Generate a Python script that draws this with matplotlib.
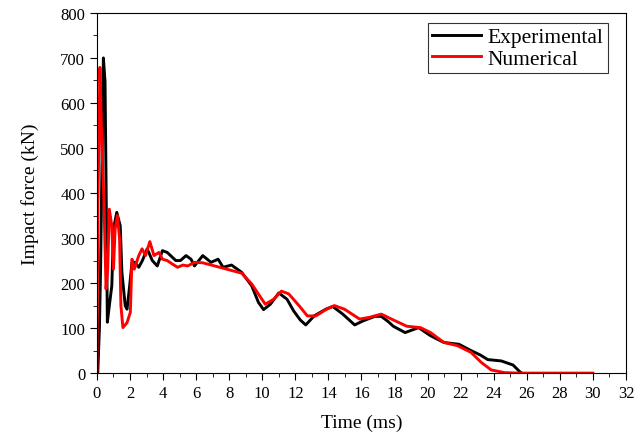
import matplotlib
matplotlib.use('Agg')
import matplotlib.pyplot as plt
from matplotlib.ticker import MultipleLocator

plt.rcParams['font.family'] = 'Liberation Serif'

# Experimental curve (time in ms, force in kN)
exp_t = [0.0, 0.05, 0.15, 0.22, 0.30, 0.39, 0.49, 0.55, 0.63, 0.75, 0.90, 1.00, 1.20, 1.41,
         1.51, 1.71, 1.82, 1.98, 2.12, 2.30, 2.53, 2.75, 3.04, 3.35, 3.65, 3.96, 4.25, 4.57,
         4.77, 5.05, 5.39, 5.69, 5.90, 6.40, 6.90, 7.33, 7.63, 8.14, 8.75, 9.36, 9.77, 10.08,
         10.49, 11.0, 11.5, 11.9, 12.3, 12.63, 13.14, 13.85, 14.26, 14.87, 15.59, 16.1, 16.81,
         17.2, 17.6, 17.93, 18.64, 19.46, 20.18, 20.99, 21.9, 22.63, 23.2, 23.64, 24.46, 25.17,
         25.58, 25.7]
exp_f = [0, 0, 100, 230, 450, 700, 647, 431, 113, 150, 194, 320, 357, 327,
         224, 150, 142, 194, 246, 246, 235, 250, 276, 250, 238, 272, 268, 257,
         250, 250, 261, 253, 238, 261, 246, 253, 235, 240, 224, 194, 157, 141,
         153, 178, 164, 138, 118, 107, 127, 142, 148, 131, 107, 116, 126,
         126, 115, 104, 90, 101, 83, 68, 64, 50, 40, 30, 27, 18,
         3, 0]

# Numerical curve
num_t = [0.0, 0.05, 0.18, 0.29, 0.43, 0.55, 0.65, 0.75, 0.90, 1.00, 1.10, 1.24, 1.37, 1.45,
         1.57, 1.82, 2.02, 2.12, 2.26, 2.53, 2.73, 2.94, 3.20, 3.45, 3.75, 3.96, 4.25, 4.57,
         4.88, 5.20, 5.49, 5.90, 6.40, 7.12, 7.73, 8.75, 9.36, 10.18, 10.69, 11.16, 11.6,
         12.22, 12.73, 13.24, 13.85, 14.36, 14.97, 15.89, 16.5, 17.2, 17.93, 18.75, 19.57,
         20.18, 20.99, 21.8, 22.63, 23.24, 23.85, 24.66, 25.5, 30.0]
num_f = [0, 350, 679, 520, 372, 187, 230, 364, 327, 231, 320, 350, 298, 150,
         101, 112, 135, 253, 231, 261, 276, 261, 292, 261, 268, 253, 250, 242,
         235, 240, 238, 246, 245, 238, 232, 222, 198, 153, 164, 182, 176,
         150, 127, 127, 141, 150, 142, 120, 124, 131, 118, 104, 101,
         90, 68, 61, 46, 24, 7, 1, 0, 0]

fig = plt.figure(figsize=(6.42, 4.35), dpi=100)
ax = fig.add_axes([0.151, 0.140, 0.824, 0.828])

ax.plot(exp_t, exp_f, color='black', lw=2.1, label='Experimental')
ax.plot(num_t, num_f, color='red', lw=2.1, label='Numerical')

ax.set_xlim(0, 32)
ax.set_ylim(0, 800)
ax.xaxis.set_major_locator(MultipleLocator(2))
ax.xaxis.set_minor_locator(MultipleLocator(1))
ax.yaxis.set_major_locator(MultipleLocator(100))
ax.yaxis.set_minor_locator(MultipleLocator(50))
ax.tick_params(which='both', direction='out', labelsize=12)
ax.tick_params(which='major', length=5)
ax.tick_params(which='minor', length=3)

ax.set_xlabel('Time (ms)', fontsize=14, labelpad=9)
ax.set_ylabel('Impact force (kN)', fontsize=14, labelpad=15)

leg = ax.legend(loc='upper right', fontsize=15.5, frameon=True, fancybox=False,
                edgecolor='black', handlelength=2.3, borderpad=0.2, labelspacing=0.05,
                handletextpad=0.3, borderaxespad=0.0, bbox_to_anchor=(0.966, 0.972))
leg.get_frame().set_linewidth(0.8)

fig.savefig('out.png', dpi=100)
